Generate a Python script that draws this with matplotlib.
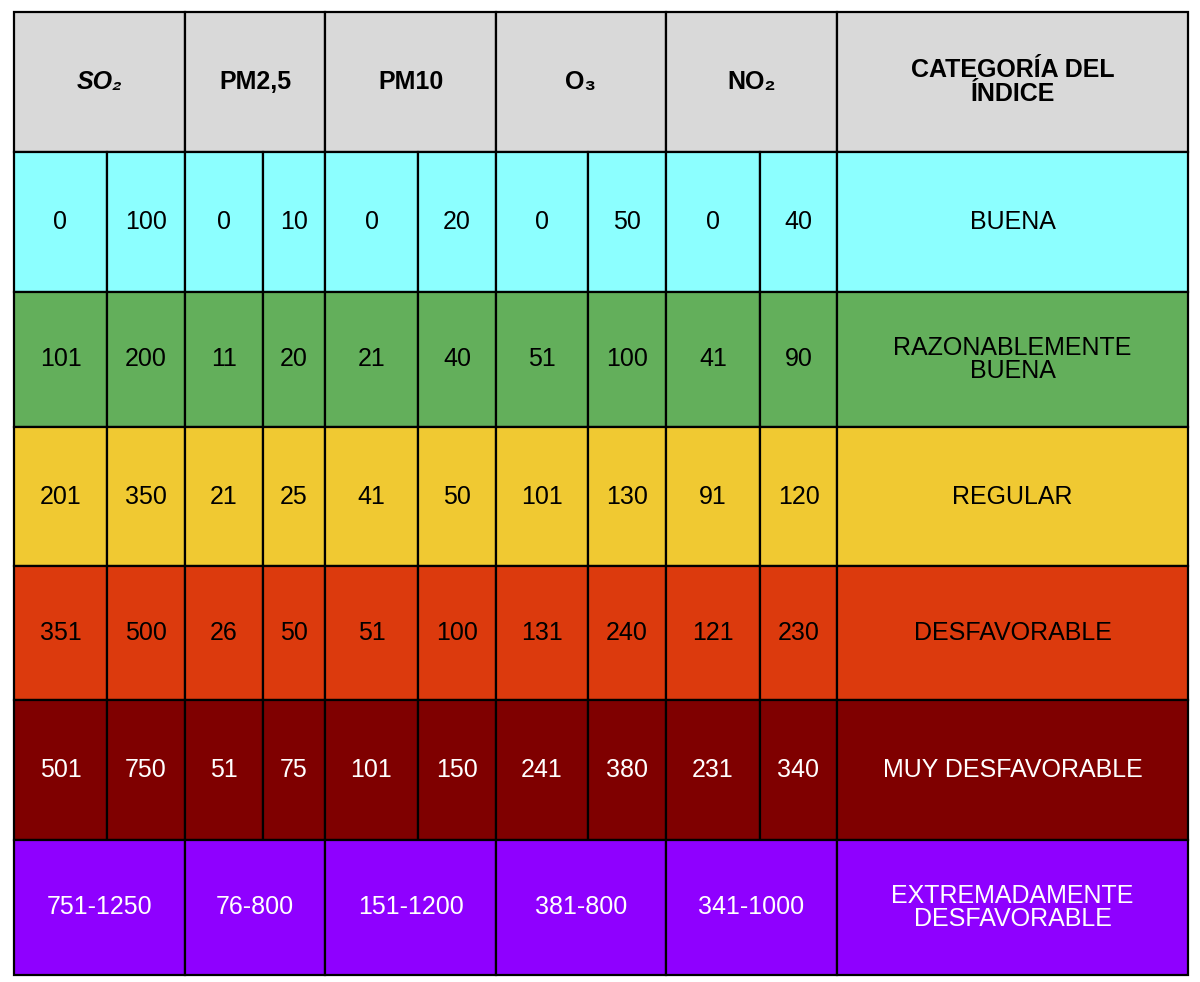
import matplotlib
matplotlib.use("Agg")
import matplotlib.pyplot as plt
from matplotlib.patches import Rectangle

plt.rcParams['font.family'] = ['Liberation Sans', 'DejaVu Sans']

pollutants = ["SO₂", "PM2,5", "PM10", "O₃", "NO₂"]
header_last = "CATEGORÍA DEL\nÍNDICE"
categories = ["BUENA", "RAZONABLEMENTE\nBUENA", "REGULAR", "DESFAVORABLE",
              "MUY DESFAVORABLE", "EXTREMADAMENTE\nDESFAVORABLE"]
ranges = [
    [("0", "100"), ("0", "10"), ("0", "20"), ("0", "50"), ("0", "40")],
    [("101", "200"), ("11", "20"), ("21", "40"), ("51", "100"), ("41", "90")],
    [("201", "350"), ("21", "25"), ("41", "50"), ("101", "130"), ("91", "120")],
    [("351", "500"), ("26", "50"), ("51", "100"), ("131", "240"), ("121", "230")],
    [("501", "750"), ("51", "75"), ("101", "150"), ("241", "380"), ("231", "340")],
]
last_row = ["751-1250", "76-800", "151-1200", "381-800", "341-1000"]
row_colors = ["#8cffff", "#63af5b", "#f0c932", "#dc3a0d", "#7f0000", "#8f00ff"]
text_colors = ["black", "black", "black", "black", "white", "white"]
header_color = "#d9d9d9"

# layout (pixels)
xb = [14, 107, 185, 263, 325, 418, 496, 588, 666, 760, 837, 1188]
yb = [12, 152, 292, 427, 566, 700, 840, 975]

fig = plt.figure(figsize=(12, 9.82), dpi=100)
ax = fig.add_axes([0, 0, 1, 1])
ax.set_xlim(0, 1200); ax.set_ylim(982, 0); ax.axis('off')

def cell(x0, x1, y0, y1, fc, txt, tc, bold=False, italic=False, fs=18):
    ax.add_patch(Rectangle((x0, y0), x1 - x0, y1 - y0, facecolor=fc,
                           edgecolor='black', linewidth=1.6))
    ax.text((x0 + x1) / 2, (y0 + y1) / 2, txt, ha='center', va='center',
            color=tc, fontsize=fs, fontweight='bold' if bold else 'normal',
            style='italic' if italic else 'normal', linespacing=0.95)

# header
for i, p in enumerate(pollutants):
    cell(xb[2*i], xb[2*i+2], yb[0], yb[1], header_color, p, 'black',
         bold=True, italic=(i == 0))
cell(xb[10], xb[11], yb[0], yb[1], header_color, header_last, 'black', bold=True)

for r in range(6):
    y0, y1 = yb[r+1], yb[r+2]
    fc, tc = row_colors[r], text_colors[r]
    if r < 5:
        for i, (a, b) in enumerate(ranges[r]):
            cell(xb[2*i], xb[2*i+1], y0, y1, fc, a, tc)
            cell(xb[2*i+1], xb[2*i+2], y0, y1, fc, b, tc)
    else:
        for i, v in enumerate(last_row):
            cell(xb[2*i], xb[2*i+2], y0, y1, fc, v, tc)
    cell(xb[10], xb[11], y0, y1, fc, categories[r], tc)

fig.savefig("out.png", dpi=100, facecolor='white')
